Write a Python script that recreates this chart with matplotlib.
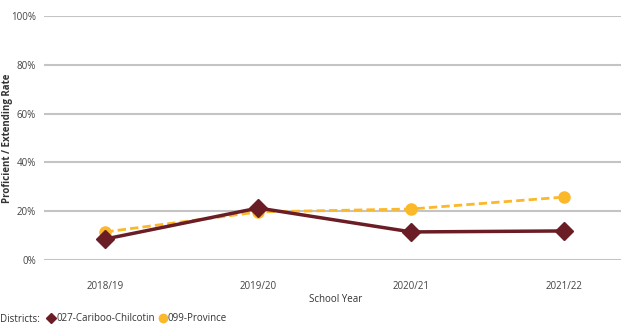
import matplotlib
matplotlib.use("Agg")
import matplotlib.pyplot as plt
from matplotlib.lines import Line2D

plt.rcParams['font.family'] = ['Open Sans', 'DejaVu Sans']

years = ["2018/19", "2019/20", "2020/21", "2021/22"]
cariboo = [8.6, 21.3, 11.5, 11.9]
province = [11.5, 19.7, 20.9, 25.8]
yticks = [0, 20, 40, 60, 80, 100]

maroon = "#6a1d25"
gold = "#fbb829"
grid_grey = "#c4c4c4"
text_grey = "#444444"

fig = plt.figure(figsize=(6.21, 3.25), dpi=100)
ax = fig.add_axes([0.071, 0.2, 0.929, 0.751])

x = list(range(len(years)))
ax.plot(x, province, color=gold, linestyle=(0, (3, 1.5)), linewidth=2,
        marker="o", markersize=8, zorder=3)
ax.plot(x, cariboo, color=maroon, linewidth=2.5,
        marker="D", markersize=9, zorder=4)

ax.set_ylim(0, 100)
ax.set_xlim(-0.4, 3.37)
ax.set_yticks(yticks)
ax.set_yticklabels([f"{v}%" for v in yticks])
ax.set_xticks(x)
ax.set_xticklabels(years)
ax.grid(axis="y", color=grid_grey, linewidth=1.5)
ax.set_axisbelow(True)
for s in ax.spines.values():
    s.set_visible(False)
ax.tick_params(length=0, labelsize=7, colors=text_grey, pad=6)
ax.tick_params(axis="x", pad=15)

fig.text(0.54, 0.07, "School Year", fontsize=7, color="#333333", ha="center")
fig.text(0.012, 0.575, "Proficient / Extending Rate", fontsize=7, fontweight="bold",
         color="#333333", rotation=90, ha="center", va="center")

# legend row along the bottom
handles = [
    Line2D([], [], color=maroon, marker="D", linestyle="", markersize=5),
    Line2D([], [], color=gold, marker="o", linestyle="", markersize=6),
]
fig.text(0.0, 0.018, "Districts:", fontsize=7, color="#333333", va="center")
fig.legend(handles, ["027-Cariboo-Chilcotin", "099-Province"], loc="center left",
           bbox_to_anchor=(0.075, 0.02), ncol=2, frameon=False, fontsize=7,
           handletextpad=0.0, columnspacing=0.3, handlelength=1.0,
           borderpad=0, borderaxespad=0, labelcolor="#333333")

fig.savefig("out.png", dpi=100)
